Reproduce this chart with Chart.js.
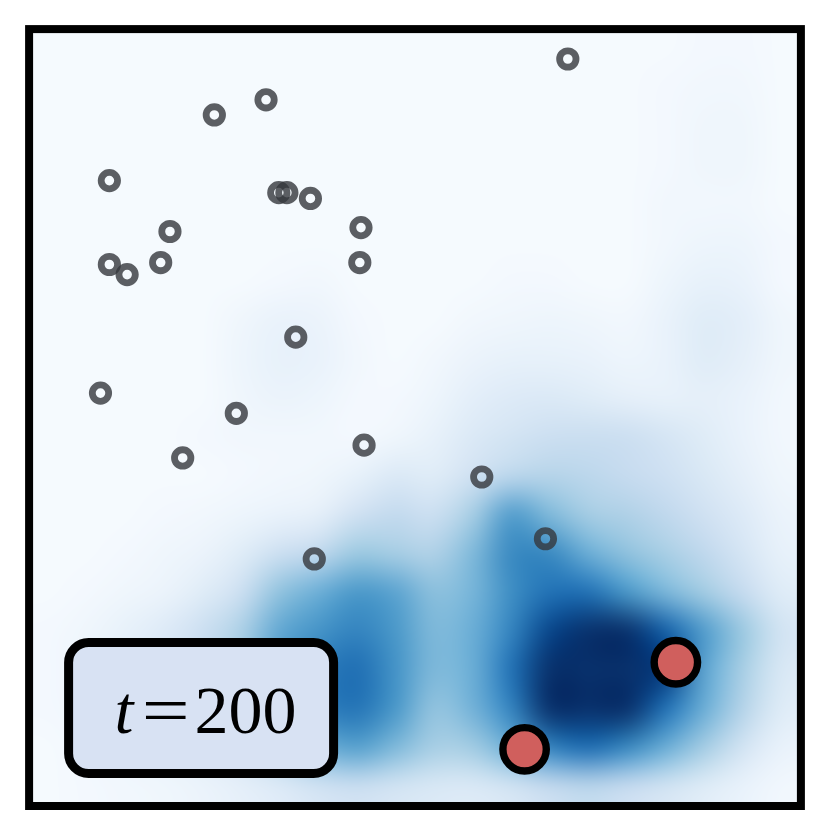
<!DOCTYPE html>
<html>
<head>
<meta charset="utf-8">
<script src="https://cdn.jsdelivr.net/npm/chart.js@4.4.1/dist/chart.umd.min.js"></script>
<style>
  html, body { margin: 0; padding: 0; background: #fff; }
  canvas { display: block; }
</style>
</head>
<body>
<canvas id="chart" width="830" height="839"></canvas>
<script>
const gridSize = 20;

// density, one row per cell, top of the plot first
const density = [
  [.01,.01,.01,.01,.01,.01,.01,.01,.01,.01,.01,.01,.01,.01,.01,.01,.01,.02,.02,.01],
  [.01,.01,.01,.01,.01,.01,.01,.01,.01,.01,.01,.01,.01,.01,.01,.01,.02,.03,.03,.01],
  [.01,.01,.01,.01,.01,.01,.01,.01,.01,.01,.01,.01,.01,.01,.01,.01,.02,.04,.04,.01],
  [.01,.01,.01,.01,.01,.01,.01,.01,.01,.01,.01,.01,.01,.01,.01,.01,.02,.04,.04,.01],
  [.01,.01,.01,.01,.01,.01,.01,.01,.01,.01,.01,.01,.01,.01,.01,.01,.03,.03,.03,.01],
  [.01,.01,.01,.01,.01,.01,.01,.01,.01,.01,.01,.01,.01,.01,.01,.01,.03,.05,.05,.02],
  [.01,.01,.01,.01,.01,.01,.02,.03,.01,.01,.01,.01,.02,.02,.01,.01,.05,.08,.07,.02],
  [.01,.01,.01,.01,.01,.04,.07,.06,.02,.01,.01,.03,.04,.05,.04,.03,.07,.12,.10,.04],
  [.01,.01,.01,.01,.01,.05,.08,.07,.03,.01,.03,.06,.08,.08,.07,.05,.07,.12,.09,.04],
  [.01,.01,.01,.01,.01,.04,.06,.05,.02,.02,.05,.10,.13,.14,.12,.09,.08,.09,.07,.03],
  [.01,.01,.01,.01,.02,.03,.03,.03,.02,.04,.08,.14,.18,.22,.23,.22,.17,.12,.07,.03],
  [.01,.01,.01,.01,.01,.02,.03,.04,.08,.14,.12,.20,.28,.30,.28,.25,.21,.15,.09,.04],
  [.01,.01,.01,.02,.03,.05,.07,.09,.20,.26,.22,.35,.58,.45,.35,.32,.27,.20,.13,.06],
  [.01,.01,.02,.04,.06,.12,.22,.27,.38,.35,.32,.45,.66,.66,.50,.41,.34,.27,.17,.08],
  [.01,.02,.04,.06,.12,.22,.41,.50,.60,.55,.42,.47,.64,.75,.75,.60,.46,.36,.25,.12],
  [.02,.04,.08,.13,.22,.33,.53,.62,.68,.60,.45,.50,.68,.92,1.05,1.0,.82,.58,.38,.18],
  [.02,.05,.09,.14,.23,.36,.58,.70,.76,.62,.45,.50,.75,1.15,1.4,1.3,.95,.55,.34,.15],
  [.02,.04,.08,.12,.19,.31,.52,.68,.74,.60,.40,.48,.68,1.05,1.2,1.1,.75,.50,.30,.12],
  [.01,.03,.05,.08,.12,.20,.34,.48,.56,.45,.34,.36,.50,.68,.76,.66,.50,.35,.18,.07],
  [.01,.02,.03,.04,.06,.09,.13,.19,.22,.18,.15,.14,.18,.25,.28,.24,.18,.12,.07,.03],
];

// hollow grey markers
const walkersX = [13.96, 4.80, 6.14, 2.08, 6.47, 6.68, 7.29, 3.65, 8.60, 2.08, 2.54, 3.41, 8.57, 6.91, 1.85, 5.37, 3.98, 8.68, 11.73, 13.38, 7.39];
const walkersY = [19.23, 17.79, 18.18, 16.10, 15.79, 15.79, 15.64, 14.79, 14.89, 13.94, 13.68, 13.99, 13.99, 12.07, 10.63, 10.11, 8.96, 9.29, 8.47, 6.88, 6.36];

// red markers
const targetsX = [16.76, 12.84];
const targetsY = [3.70, 1.46];

const stepLabel = "200";

const blues = [
  [247, 251, 255], [222, 235, 247], [198, 219, 239], [158, 202, 225],
  [107, 174, 214], [66, 146, 198], [33, 113, 181], [8, 81, 156], [8, 48, 107],
];

function bluesColor(v) {
  const t = Math.max(0, Math.min(1, v)) * (blues.length - 1);
  const i = Math.min(blues.length - 2, Math.floor(t));
  const f = t - i;
  return blues[i].map((c, k) => Math.round(c + (blues[i + 1][k] - c) * f));
}

const heatmapPlugin = {
  id: "heatmap",
  beforeDatasetsDraw(chart) {
    const { ctx, scales: { x, y } } = chart;
    const img = document.createElement("canvas");
    img.width = gridSize;
    img.height = gridSize;
    const ictx = img.getContext("2d");
    const pixels = ictx.createImageData(gridSize, gridSize);
    density.forEach((row, j) => {
      row.forEach((v, i) => {
        const c = bluesColor(v);
        const k = (j * gridSize + i) * 4;
        pixels.data[k] = c[0];
        pixels.data[k + 1] = c[1];
        pixels.data[k + 2] = c[2];
        pixels.data[k + 3] = 255;
      });
    });
    ictx.putImageData(pixels, 0, 0);

    const left = x.getPixelForValue(0);
    const right = x.getPixelForValue(gridSize);
    const top = y.getPixelForValue(gridSize);
    const bottom = y.getPixelForValue(0);
    ctx.save();
    ctx.imageSmoothingEnabled = true;
    ctx.imageSmoothingQuality = "high";
    ctx.drawImage(img, left, top, right - left, bottom - top);
    ctx.restore();
  },
};

const framePlugin = {
  id: "frame",
  afterDatasetsDraw(chart) {
    const { ctx, chartArea: a } = chart;
    ctx.save();
    ctx.lineWidth = 8;
    ctx.strokeStyle = "#000";
    ctx.strokeRect(a.left, a.top, a.right - a.left, a.bottom - a.top);

    // time label box
    const bx = a.left + 39.5;
    const by = a.bottom - 163.5;
    const bw = 265;
    const bh = 131;
    ctx.beginPath();
    ctx.roundRect(bx, by, bw, bh, 20);
    ctx.fillStyle = "#d8e2f3";
    ctx.fill();
    ctx.lineWidth = 9;
    ctx.stroke();

    const base = by + 90.5;
    ctx.fillStyle = "#000";
    ctx.textBaseline = "alphabetic";
    ctx.textAlign = "left";
    ctx.font = "italic 68px 'Liberation Serif'";
    ctx.fillText("t", bx + 46, base);
    ctx.save();
    ctx.translate(bx + 97, base);
    ctx.scale(1.25, 1);
    ctx.textAlign = "center";
    ctx.font = "68px 'Liberation Serif'";
    ctx.fillText("=", 0, 0);
    ctx.restore();
    ctx.font = "68px 'Liberation Serif'";
    ctx.fillText(stepLabel, bx + 126, base);
    ctx.restore();
  },
};

new Chart(document.getElementById("chart"), {
  type: "scatter",
  data: {
    datasets: [
      {
        data: walkersX.map((v, i) => ({ x: v, y: walkersY[i] })),
        pointRadius: 8.2,
        borderWidth: 6.8,
        borderColor: "rgba(52, 55, 60, 0.8)",
        backgroundColor: "rgba(0, 0, 0, 0)",
      },
      {
        data: targetsX.map((v, i) => ({ x: v, y: targetsY[i] })),
        pointRadius: 21.7,
        borderWidth: 7.4,
        borderColor: "#000",
        backgroundColor: "#d05f5d",
      },
    ],
  },
  options: {
    responsive: false,
    animation: false,
    events: [],
    layout: { padding: { left: 27, right: 24, top: 27, bottom: 33 } },
    plugins: { legend: { display: false }, tooltip: { enabled: false } },
    scales: {
      x: { type: "linear", min: 0, max: gridSize, display: false },
      y: { type: "linear", min: 0, max: gridSize, display: false },
    },
  },
  plugins: [heatmapPlugin, framePlugin],
});
</script>
</body>
</html>
